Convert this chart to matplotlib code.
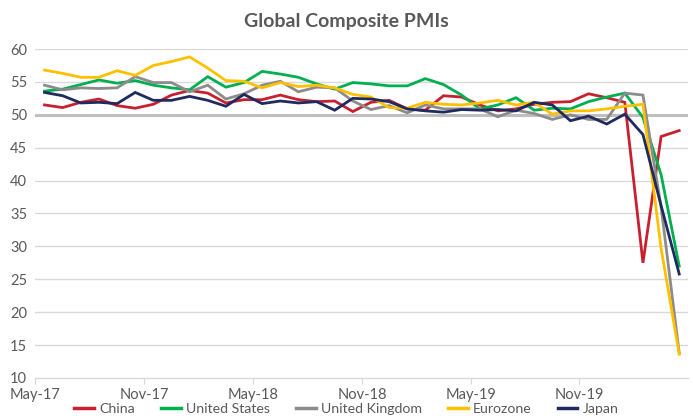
import matplotlib
matplotlib.use("Agg")
import matplotlib.pyplot as plt
import numpy as np

months = ["May-17","Jun-17","Jul-17","Aug-17","Sep-17","Oct-17","Nov-17","Dec-17",
          "Jan-18","Feb-18","Mar-18","Apr-18","May-18","Jun-18","Jul-18","Aug-18",
          "Sep-18","Oct-18","Nov-18","Dec-18","Jan-19","Feb-19","Mar-19","Apr-19",
          "May-19","Jun-19","Jul-19","Aug-19","Sep-19","Oct-19","Nov-19","Dec-19",
          "Jan-20","Feb-20","Mar-20","Apr-20"]

china = [51.5, 51.1, 51.9, 52.4, 51.4, 51.0, 51.6, 53.0, 53.7, 53.3, 51.8, 52.3,
         52.3, 53.0, 52.3, 52.0, 52.1, 50.5, 51.9, 52.2, 50.9, 50.7, 52.9, 52.7,
         51.5, 50.6, 50.9, 51.6, 51.9, 52.0, 53.2, 52.6, 51.9, 27.5, 46.7, 47.6]
us = [53.6, 53.9, 54.6, 55.3, 54.8, 55.2, 54.5, 54.1, 53.8, 55.8, 54.2, 54.9,
      56.6, 56.2, 55.7, 54.7, 53.9, 54.9, 54.7, 54.4, 54.4, 55.5, 54.6, 53.0,
      50.9, 51.5, 52.6, 50.7, 51.0, 50.9, 52.0, 52.7, 53.3, 49.6, 40.9, 27.0]
uk = [54.5, 53.8, 54.1, 54.0, 54.1, 55.8, 54.9, 54.9, 53.5, 54.5, 52.4, 53.2,
      54.5, 55.1, 53.5, 54.2, 54.1, 52.1, 50.8, 51.4, 50.3, 51.5, 50.9, 50.9,
      50.9, 49.7, 50.7, 50.2, 49.3, 50.0, 49.3, 49.3, 53.3, 53.0, 36.0, 13.8]
eurozone = [56.8, 56.3, 55.7, 55.7, 56.7, 56.0, 57.5, 58.1, 58.8, 57.1, 55.2, 55.1,
            54.1, 54.9, 54.3, 54.5, 54.1, 53.1, 52.7, 51.1, 51.0, 51.9, 51.6, 51.5,
            51.8, 52.2, 51.5, 51.9, 50.1, 50.6, 50.6, 50.9, 51.3, 51.6, 29.7, 13.6]
japan = [53.4, 52.9, 51.8, 51.9, 51.7, 53.4, 52.2, 52.2, 52.8, 52.2, 51.3, 53.1,
         51.7, 52.1, 51.8, 52.0, 50.7, 52.5, 52.4, 52.0, 50.9, 50.6, 50.4, 50.8,
         50.7, 50.8, 50.6, 51.9, 51.5, 49.1, 49.8, 48.6, 50.1, 47.0, 36.2, 25.8]

series_names = ["China", "United States", "United Kingdom", "Eurozone", "Japan"]
series_colors = ["#C8202F", "#00B050", "#8C8C8C", "#FFC000", "#1F2A5E"]
tick_labels = ["May-17", "Nov-17", "May-18", "Nov-18", "May-19", "Nov-19"]
threshold = 50

plt.rcParams['font.family'] = ['Lato', 'DejaVu Sans']

fig = plt.figure(figsize=(6.93, 4.19), dpi=100)
ax = fig.add_axes([0.0512, 0.098, 0.942, 0.785])

x = np.arange(len(months))
for yv in range(15, 61, 5):
    ax.axhline(yv, color="#D9D9D9", lw=1.0, zorder=1)
ax.axhline(threshold, color="#BFBFBF", lw=2.2, zorder=2)

for data, name, col in zip([china, us, uk, eurozone, japan], series_names, series_colors):
    ax.plot(x, data, color=col, lw=2.0, label=name, zorder=3, solid_joinstyle='miter')

ax.set_xlim(-0.5, len(months) - 0.5)
ax.set_ylim(10, 60)
ax.set_yticks(range(10, 61, 5))
tick_pos = [months.index(t) - 0.5 for t in tick_labels]
ax.set_xticks(tick_pos)
ax.set_xticklabels(tick_labels)

for s in ["top", "right", "left"]:
    ax.spines[s].set_visible(False)
ax.spines["bottom"].set_color("#D9D9D9")
ax.spines["bottom"].set_linewidth(1.0)
ax.tick_params(axis="y", length=0, labelsize=10.5, labelcolor="#595959", pad=6)
ax.tick_params(axis="x", length=4, color="#D9D9D9", labelsize=10.5, labelcolor="#595959", pad=3)

fig.text(0.5, 0.948, "Global Composite PMIs", ha="center", va="center",
         fontsize=14, fontweight="bold", color="#595959")

leg = fig.legend(loc="center", bbox_to_anchor=(0.5, 0.024), ncol=5, frameon=False,
                 fontsize=10.2, handlelength=1.4, handletextpad=0.4, columnspacing=1.8,
                 borderpad=0.0)
for t in leg.get_texts():
    t.set_color("#595959")
for l in leg.get_lines():
    l.set_linewidth(2.5)

fig.savefig("out.png", dpi=100)
